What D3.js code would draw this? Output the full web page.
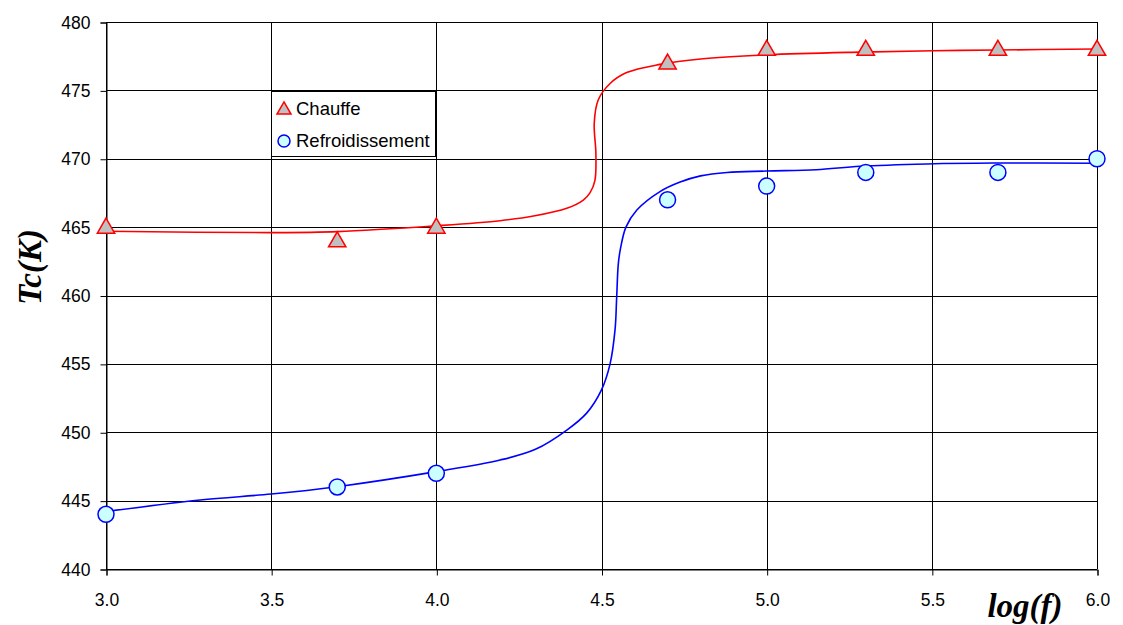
<!DOCTYPE html>
<html>
<head>
<meta charset="utf-8">
<script src="https://cdn.jsdelivr.net/npm/d3@7"></script>
<style>
  html, body { margin: 0; padding: 0; background: #fff; }
  svg { display: block; }
</style>
</head>
<body>
<svg id="chart" width="1123" height="625"></svg>
<script>
// ---- data ----
const logF = [3.0, 3.7, 4.0, 4.7, 5.0, 5.3, 5.7, 6.0];
const chauffe = [465, 464, 465, 477, 478, 478, 478, 478];
const refroidissement = [444, 446, 447, 467, 468, 469, 469, 470];

// smoothed fit curves
const chauffeFitX = [3.0, 3.5, 3.7, 4.0, 4.193, 4.294, 4.395, 4.445, 4.465, 4.48, 4.483, 4.478, 4.49, 4.526, 4.576, 4.677, 4.8, 5.0, 5.283, 5.505, 5.7, 6.0];
const chauffeFitY = [464.7, 464.6, 464.67, 465.1, 465.47, 465.81, 466.38, 466.98, 467.5, 468.4, 470.4, 472.6, 474.3, 475.5, 476.3, 476.9, 477.3, 477.6, 477.8, 477.9, 477.95, 478.03];
const refroidFitX = [3.0, 3.285, 3.5, 3.7, 4.0, 4.193, 4.3, 4.395, 4.455, 4.5, 4.526, 4.541, 4.546, 4.551, 4.558, 4.574, 4.607, 4.677, 4.738, 4.8, 4.88, 5.0, 5.15, 5.283, 5.485, 5.686, 6.0];
const refroidFitY = [444.2, 445.05, 445.48, 446.02, 447.12, 447.97, 448.75, 450.16, 451.4, 453.1, 455.0, 457.5, 459.9, 462.35, 463.5, 465.0, 466.25, 467.6, 468.3, 468.75, 469.0, 469.1, 469.2, 469.45, 469.62, 469.69, 469.67];

const xTicks = [3.0, 3.5, 4.0, 4.5, 5.0, 5.5, 6.0];
const yTicks = [440, 445, 450, 455, 460, 465, 470, 475, 480];

// ---- layout ----
const svg = d3.select("#chart");
const L = 106, R = 1097, T = 22, B = 569;
const x = d3.scaleLinear().domain([3.0, 6.0]).range([L, R]);
const y = d3.scaleLinear().domain([440, 480]).range([B, T]);

// gridlines
const g = svg.append("g");
g.selectAll("line.hg").data(yTicks).join("line")
  .attr("x1", L).attr("x2", R)
  .attr("y1", d => Math.round(y(d)) + 0.5).attr("y2", d => Math.round(y(d)) + 0.5)
  .attr("stroke", "#000").attr("stroke-width", 1);
g.selectAll("line.vg").data(xTicks).join("line")
  .attr("y1", T).attr("y2", B)
  .attr("x1", d => Math.round(x(d)) + 0.5).attr("x2", d => Math.round(x(d)) + 0.5)
  .attr("stroke", "#000").attr("stroke-width", 1);

// axes
const fontSans = "'Liberation Sans', Arial, sans-serif";
const yAxis = svg.append("g").attr("transform", `translate(${L + 0.5},0.5)`)
  .call(d3.axisLeft(y).tickValues(yTicks).tickSize(6).tickPadding(10).tickFormat(d3.format("d")));
const xAxis = svg.append("g").attr("transform", `translate(0.5,${B + 0.5})`)
  .call(d3.axisBottom(x).tickValues(xTicks).tickSize(6).tickPadding(18).tickFormat(d3.format(".1f")));
[yAxis, xAxis].forEach(a => {
  a.attr("font-family", fontSans).attr("font-size", 17.5);
  a.selectAll("path.domain").attr("stroke", "#000");
  a.selectAll(".tick line").attr("stroke", "#000");
  a.selectAll("text").attr("font-family", fontSans).attr("font-size", 17.5).attr("fill", "#000");
});

// curves
const line = d3.line().x(d => x(d[0])).y(d => y(d[1])).curve(d3.curveCatmullRom.alpha(0.5));
svg.append("path").datum(chauffeFitX.map((v, i) => [v, chauffeFitY[i]]))
  .attr("d", line).attr("fill", "none").attr("stroke", "#ff0000").attr("stroke-width", 1.6);
svg.append("path").datum(refroidFitX.map((v, i) => [v, refroidFitY[i]]))
  .attr("d", line).attr("fill", "none").attr("stroke", "#0000ff").attr("stroke-width", 1.6);

// markers
const tri = d3.symbol().type(d3.symbolTriangle).size(130);
svg.selectAll("path.tri").data(logF.map((v, i) => [v, chauffe[i]])).join("path")
  .attr("d", tri).attr("transform", d => `translate(${x(d[0])},${y(d[1]) + 1})`)
  .attr("fill", "#c0c0c0").attr("stroke", "#ff0000").attr("stroke-width", 1.5);
svg.selectAll("circle.dot").data(logF.map((v, i) => [v, refroidissement[i]])).join("circle")
  .attr("cx", d => x(d[0])).attr("cy", d => y(d[1])).attr("r", 8)
  .attr("fill", "#ccffff").attr("stroke", "#0000ff").attr("stroke-width", 1.5);

// axis titles
svg.append("text").attr("transform", "translate(41,267) rotate(-90)")
  .attr("text-anchor", "middle")
  .attr("font-family", "'Liberation Serif', 'Times New Roman', serif")
  .attr("font-weight", "bold").attr("font-style", "italic").attr("font-size", 33)
  .text("Tc(K)");
svg.append("text").attr("x", 1025).attr("y", 617)
  .attr("text-anchor", "middle")
  .attr("font-family", "'Liberation Serif', 'Times New Roman', serif")
  .attr("font-weight", "bold").attr("font-style", "italic").attr("font-size", 33)
  .text("log(f)");

// legend
const lg = svg.append("g");
lg.append("rect").attr("x", 271.5).attr("y", 91.5).attr("width", 164).attr("height", 65)
  .attr("fill", "#fff").attr("stroke", "#000").attr("stroke-width", 1);
lg.append("path").attr("d", d3.symbol().type(d3.symbolTriangle).size(85)())
  .attr("transform", "translate(284,110)")
  .attr("fill", "#c0c0c0").attr("stroke", "#ff0000").attr("stroke-width", 1.5);
lg.append("circle").attr("cx", 284).attr("cy", 141).attr("r", 6)
  .attr("fill", "#ccffff").attr("stroke", "#0000ff").attr("stroke-width", 1.5);
lg.append("text").attr("x", 296).attr("y", 115).attr("font-family", fontSans).attr("font-size", 18.5).text("Chauffe");
lg.append("text").attr("x", 296).attr("y", 147).attr("font-family", fontSans).attr("font-size", 18.5).text("Refroidissement");
</script>
</body>
</html>
